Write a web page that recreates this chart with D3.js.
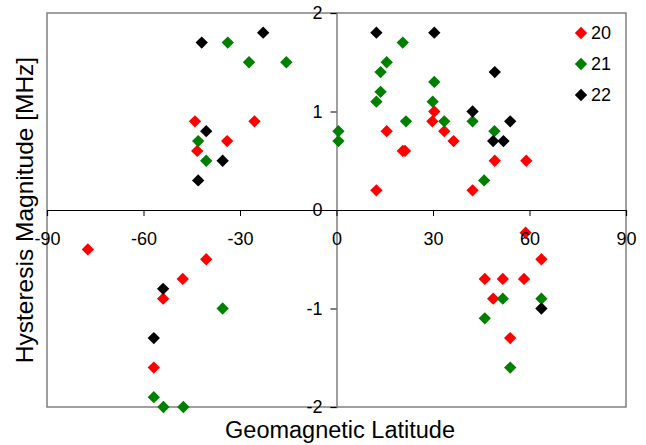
<!DOCTYPE html>
<html>
<head>
<meta charset="utf-8">
<script src="https://cdn.jsdelivr.net/npm/d3@7"></script>
<style>
  body { margin: 0; background: #fff; }
  svg { display: block; font-family: Arial, "Liberation Sans", sans-serif; }
</style>
</head>
<body>
<svg width="646" height="445"></svg>
<script>
// series: [latitude, magnitude]
var series20 = [
  [-44, 0.9], [-25.5, 0.9], [-34, 0.7], [-43.3, 0.6],
  [30.4, 1.0], [29.8, 0.9], [15.6, 0.8], [33.5, 0.8], [36.4, 0.7],
  [20.6, 0.6], [21.3, 0.6], [49.2, 0.5], [59, 0.5], [12.4, 0.2], [42.3, 0.2],
  [-77.3, -0.4], [-40.5, -0.5], [-47.8, -0.7], [-53.9, -0.9], [-56.8, -1.6],
  [58.8, -0.23], [63.7, -0.5], [46.1, -0.7], [51.7, -0.7], [58.3, -0.7],
  [48.7, -0.9], [54, -1.3]
]
var series21 = [
  [-33.8, 1.7], [-27.2, 1.5], [-15.6, 1.5], [-43, 0.7], [-40.5, 0.5],
  [0.6, 0.8], [0.6, 0.7],
  [20.6, 1.7], [15.6, 1.5], [13.7, 1.4], [13.7, 1.2], [12.4, 1.1],
  [30.4, 1.3], [29.9, 1.1], [21.6, 0.9], [33.5, 0.9], [42.3, 0.9],
  [49.1, 0.8], [45.9, 0.3],
  [-35.4, -1.0], [-56.8, -1.9], [-53.8, -2.0], [-47.6, -2.0],
  [51.7, -0.9], [63.7, -0.9], [46.1, -1.1], [54, -1.6]
]
var series22 = [
  [-41.9, 1.7], [-22.8, 1.8], [-40.5, 0.8], [-35.4, 0.5], [-43, 0.3],
  [12.4, 1.8], [30.4, 1.8], [42.3, 1.0], [49.2, 1.4], [48.7, 0.7],
  [51.9, 0.7], [54, 0.9],
  [-53.9, -0.8], [-56.8, -1.3], [63.7, -1.0]
]
var seriesNames = ['20', '21', '22']
var seriesColors = ['#ff0000', '#008000', '#000000']
var xTicks = [-90, -60, -30, 0, 30, 60, 90]
var yTicks = [-2, -1, 0, 1, 2]

var svg = d3.select('svg')
var plotLeft = 47, plotRight = 626, plotTop = 13, plotBottom = 407

var x = d3.scaleLinear().domain([-90, 90]).range([plotLeft, plotRight])
var y = d3.scaleLinear().domain([-2, 2]).range([plotBottom, plotTop])
var fmt = function (d) { return String(d) }
var font = 'Arial, "Liberation Sans", sans-serif'

// plot frame
svg.append('rect')
  .attr('x', plotLeft).attr('y', plotTop)
  .attr('width', plotRight - plotLeft).attr('height', plotBottom - plotTop)
  .attr('fill', 'none').attr('stroke', '#808080').attr('stroke-width', 1.5)

var xAxisGen = d3.axisBottom(x).tickValues(xTicks).tickSize(6).tickPadding(16).tickFormat(fmt)
var yAxisGen = d3.axisLeft(y).tickValues(yTicks).tickSize(6).tickPadding(8).tickFormat(fmt)

// axis lines and ticks (under the markers)
var yAxis = svg.append('g')
  .attr('transform', 'translate(' + x(0) + ',0)')
  .call(yAxisGen)
yAxis.select('.domain').attr('stroke', '#808080').attr('stroke-width', 1.5)
yAxis.selectAll('.tick line').attr('stroke', '#000')
yAxis.selectAll('.tick text').remove()

var xAxis = svg.append('g')
  .attr('transform', 'translate(0,' + y(0) + ')')
  .call(xAxisGen)
xAxis.select('.domain').attr('stroke', '#000').attr('stroke-width', 1.2)
xAxis.selectAll('.tick line').attr('stroke', '#000')
xAxis.selectAll('.tick text').remove()

// markers
var diamond = d3.symbol().type(d3.symbolSquare).size(76)
var allSeries = [series20, series21, series22]

var marks = svg.append('g')
allSeries.forEach(function (s, i) {
  marks.selectAll('.m' + i)
    .data(s)
    .enter().append('path')
    .attr('class', 'm' + i)
    .attr('d', diamond)
    .attr('transform', function (d) {
      return 'translate(' + x(d[0]) + ',' + y(d[1]) + ') rotate(45)'
    })
    .attr('fill', seriesColors[i])
})

// tick labels (over the markers)
var xLabels = svg.append('g')
  .attr('transform', 'translate(0,' + y(0) + ')')
  .call(xAxisGen)
xLabels.select('.domain').remove()
xLabels.selectAll('.tick line').remove()
xLabels.selectAll('text').attr('font-size', 18).attr('font-family', font).attr('fill', '#000')

var yLabels = svg.append('g')
  .attr('transform', 'translate(' + x(0) + ',0)')
  .call(yAxisGen)
yLabels.select('.domain').remove()
yLabels.selectAll('.tick line').remove()
yLabels.selectAll('text').attr('font-size', 18).attr('font-family', font).attr('fill', '#000')

// legend
var legend = svg.append('g')
seriesNames.forEach(function (name, i) {
  var ly = 33 + i * 31
  legend.append('path')
    .attr('d', diamond)
    .attr('transform', 'translate(581,' + ly + ') rotate(45)')
    .attr('fill', seriesColors[i])
  legend.append('text')
    .attr('x', 591).attr('y', ly).attr('dy', '0.35em')
    .attr('font-size', 18)
    .text(name)
})

// axis titles
svg.append('text')
  .attr('x', 340).attr('y', 438)
  .attr('text-anchor', 'middle')
  .attr('font-size', 23.5)
  .text('Geomagnetic Latitude')

svg.append('text')
  .attr('transform', 'translate(33,' + y(0) + ') rotate(-90)')
  .attr('text-anchor', 'middle')
  .attr('font-size', 24.5)
  .text('Hysteresis Magnitude [MHz]')
</script>
</body>
</html>
